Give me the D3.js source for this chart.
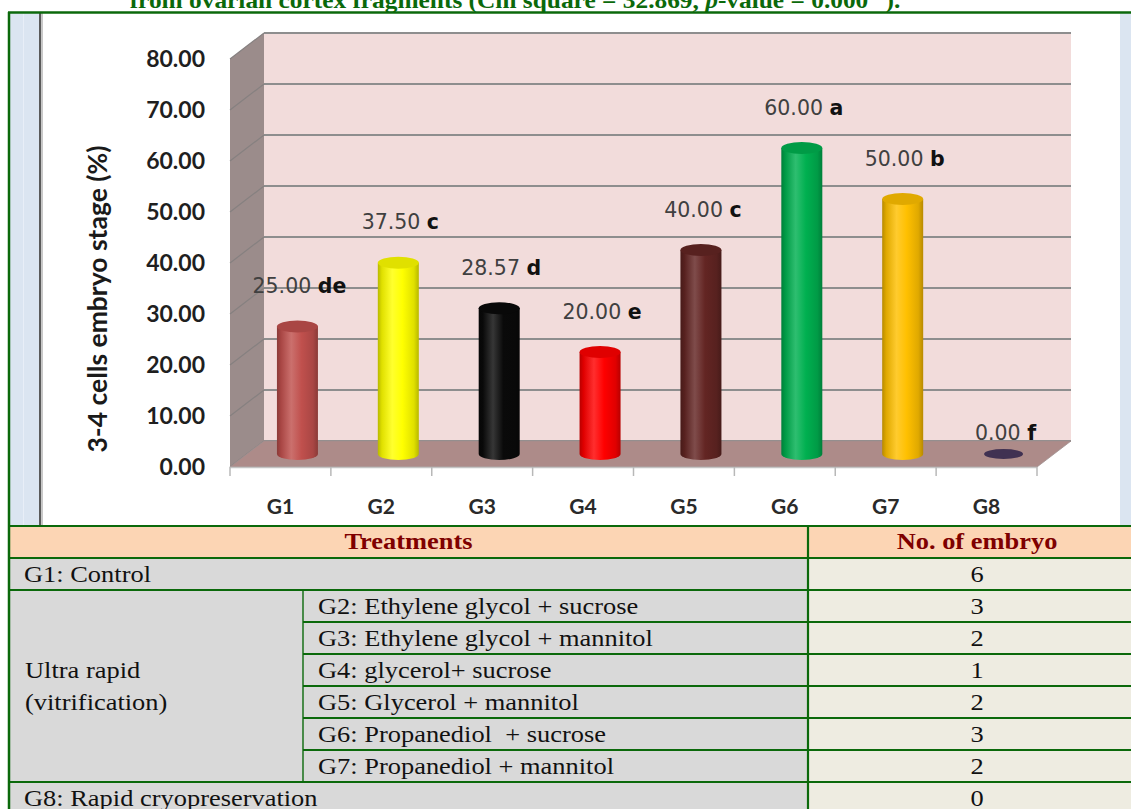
<!DOCTYPE html>
<html><head><meta charset="utf-8">
<script src="https://cdn.jsdelivr.net/npm/d3@7"></script>
<style>body{margin:0;background:#fff;overflow:hidden} svg{display:block} text{white-space:pre}</style>
</head><body><svg id="c" width="1131" height="809"></svg>
<script>
// ---------- data ----------
const categories = ["G1","G2","G3","G4","G5","G6","G7","G8"];
const values = [25.00, 37.50, 28.57, 20.00, 40.00, 60.00, 50.00, 0.00];
const letters = ["de","c","d","e","c","a","b","f"];
const barColors = ["#c0504d","#ffff00","#0a0a0a","#ff0000","#632523","#00b050","#ffc000","#403152"];
const yTicks = [0,10,20,30,40,50,60,70,80];
const yTitle = "3-4 cells embryo stage (%)";
const titleParts = ["from ovarian cortex fragments (Chi square = 32.869, ", "p", "-value = 0.000", "**", ")."];
const treatmentNames = ["G1: Control","G2: Ethylene glycol + sucrose","G3: Ethylene glycol + mannitol","G4: glycerol+ sucrose","G5: Glycerol + mannitol","G6: Propanediol  + sucrose","G7: Propanediol + mannitol","G8: Rapid cryopreservation"];
const groupLabel = ["Ultra rapid","(vitrification)"];
const embryoCounts = [6,3,2,1,2,3,2,0];
const headers = ["Treatments","No. of embryo"];

// ---------- setup ----------
const svg = d3.select("#c");
const defs = svg.append("defs");
const GREEN = "#0b690b";
const SX = 1.125; // horizontal stretch of the original scan

// title (top cut off as in the original)
const tt = svg.append("text")
  .attr("transform", `translate(515,8) scale(1.08,1)`)
  .attr("text-anchor","middle").attr("font-family","Liberation Serif")
  .attr("font-weight","bold").attr("font-size",23.5).attr("fill",GREEN);
tt.append("tspan").text(titleParts[0]);
tt.append("tspan").attr("font-style","italic").text(titleParts[1]);
tt.append("tspan").text(titleParts[2]);
tt.append("tspan").attr("dy",-9).attr("font-size",16).text(titleParts[3]);
tt.append("tspan").attr("dy",9).text(titleParts[4]);

// chart frame
svg.append("rect").attr("x",10).attr("y",13).attr("width",29).attr("height",513).attr("fill","#dbe5f1");
svg.append("line").attr("x1",23.5).attr("x2",23.5).attr("y1",13).attr("y2",526).attr("stroke","#e8eef7").attr("stroke-width",1);
svg.append("rect").attr("x",1120).attr("y",13).attr("width",11).attr("height",513).attr("fill","#dbe5f1");
svg.append("rect").attr("x",39).attr("y",13).attr("width",2).attr("height",513).attr("fill","#5a5a5a");
svg.append("rect").attr("x",41).attr("y",13).attr("width",2).attr("height",513).attr("fill","#c8c8c8");

// ---------- 3D chart ----------
const x = d3.scaleBand().domain(categories).range([230,1037]);
const y = d3.scaleLinear().domain([0,80]).range([467,59]);
const DX = 34, DY = -26;
const y0 = y(0), yTop = y(80);
const xl = x.range()[0], xr = x.range()[1];

const pts = a => a.map(p=>p.join(",")).join(" ");
// back wall
svg.append("polygon").attr("points", pts([[xl+DX,yTop+DY],[xr+DX,yTop+DY],[xr+DX,y0+DY],[xl+DX,y0+DY]])).attr("fill","#f2dcdb");
// side wall
svg.append("polygon").attr("points", pts([[xl,y0],[xl,yTop],[xl+DX,yTop+DY],[xl+DX,y0+DY]])).attr("fill","#9b8c8b");
// gridlines
yTicks.forEach(t=>{
  svg.append("line").attr("x1",xl+DX).attr("x2",xr+DX).attr("y1",y(t)+DY).attr("y2",y(t)+DY)
    .attr("stroke","#8e8e8e").attr("stroke-width",1.8);
  svg.append("line").attr("x1",xl).attr("x2",xl+DX).attr("y1",y(t)).attr("y2",y(t)+DY)
    .attr("stroke","#868080").attr("stroke-width",1.2);
});
// floor
svg.append("polygon").attr("points", pts([[xl,y0],[xl+DX,y0+DY],[xr+DX,y0+DY],[xr,y0]])).attr("fill","#ad8b89")
  .attr("stroke","#a09090").attr("stroke-width",0.8);
// front axis and ticks
svg.append("line").attr("x1",xl).attr("x2",xr).attr("y1",y0+0.5).attr("y2",y0+0.5).attr("stroke","#c4c4c4").attr("stroke-width",1.5);
categories.concat([null]).forEach((c,i)=>{
  const xx = c ? x(c) : xr;
  svg.append("line").attr("x1",xx).attr("x2",xx).attr("y1",y0).attr("y2",y0+9).attr("stroke","#b8b8b8").attr("stroke-width",1.5);
});

// y tick labels
yTicks.forEach(t=>{
  svg.append("text").attr("x",205).attr("y",y(t)+8).attr("text-anchor","end")
    .attr("font-family","Lato").attr("font-weight","bold").attr("font-size",23).attr("fill","#1f1f1f")
    .text(d3.format(".2f")(t));
});
// y title
svg.append("text").attr("transform","translate(107,299) rotate(-90)").attr("text-anchor","middle")
  .attr("font-family","Lato").attr("font-weight","bold").attr("font-size",26.5).attr("fill","#1a1a1a").text(yTitle);
// category labels
categories.forEach(c=>{
  svg.append("text").attr("x",x(c)+x.bandwidth()/2).attr("y",514).attr("text-anchor","middle")
    .attr("font-family","Lato").attr("font-weight","bold").attr("font-size",21).attr("fill","#2a2a2a").text(c);
});

// cylinders
const rx = 20.5, ry = 6;
values.forEach((v,i)=>{
  const c = categories[i];
  const cx = x(c) + x.bandwidth()/2 + DX/2;
  const yb = y(0) + DY/2, yt = y(v) + DY/2;
  const base = d3.color(barColors[i]);
  if (v > 0) {
    const g = defs.append("linearGradient").attr("id","g"+i).attr("x1",0).attr("x2",1).attr("y1",0).attr("y2",0);
    const hi = d3.interpolateRgb(base, "#ffffff")(0.18);
    const lo = d3.interpolateRgb(base, "#000000")(0.28);
    const lo2 = d3.interpolateRgb(base, "#000000")(0.12);
    [[0,lo],[0.1,lo2],[0.35,hi],[0.6,base.formatHex()],[0.88,lo2],[1,lo]].forEach(s=>
      g.append("stop").attr("offset",s[0]).attr("stop-color",s[1]));
    svg.append("path")
      .attr("d",`M${cx-rx},${yt} L${cx-rx},${yb} A${rx},${ry} 0 0 0 ${cx+rx},${yb} L${cx+rx},${yt} Z`)
      .attr("fill",`url(#g${i})`);
    svg.append("ellipse").attr("cx",cx).attr("cy",yt).attr("rx",rx).attr("ry",ry)
      .attr("fill", d3.interpolateRgb(base, "#000000")(0.12));
  } else {
    svg.append("ellipse").attr("cx",cx).attr("cy",yb).attr("rx",rx-1).attr("ry",ry-1).attr("fill",base.formatHex());
  }
  const ly = (v > 0 ? yt - 41 : yb - 22) + 7.5;
  const lt = svg.append("text").attr("x",cx+2).attr("y",ly).attr("text-anchor","middle")
    .attr("font-family","DejaVu Sans").attr("font-size",20.5);
  lt.append("tspan").attr("fill","#404040").text(d3.format(".2f")(v) + " ");
  lt.append("tspan").attr("fill","#111").attr("font-weight","bold").text(letters[i]);
});

// ---------- table ----------
const TL = 9, TR = 1146, TC = 808, TI = 303;
const rowTop = 526, rowH = 32;
const ty = r => rowTop + r*rowH; // r=0 header
// backgrounds
svg.append("rect").attr("x",TL).attr("y",ty(0)).attr("width",TR-TL).attr("height",rowH).attr("fill","#fcd5b4");
svg.append("rect").attr("x",TL).attr("y",ty(1)).attr("width",TC-TL).attr("height",809-ty(1)).attr("fill","#d9d9d9");
svg.append("rect").attr("x",TC).attr("y",ty(1)).attr("width",TR-TC).attr("height",809-ty(1)).attr("fill","#eeece1");

const cellText = (x0, yy, txt, anchor, opts={}) => {
  const t = svg.append("text").attr("transform",`translate(${x0},${yy}) scale(${SX},1)`)
    .attr("text-anchor",anchor).attr("font-family","Liberation Serif").attr("font-size",23.5)
    .attr("fill", opts.fill || "#111").text(txt);
  if (opts.bold) t.attr("font-weight","bold");
  return t;
};
// header
cellText((TL+TC)/2, ty(0)+23, headers[0], "middle", {bold:true, fill:"#7f0000"});
cellText((TC+TR)/2, ty(0)+23, headers[1], "middle", {bold:true, fill:"#7f0000"});
// rows
treatmentNames.forEach((name,i)=>{
  const r = i+1;
  const inner = i>0 && i<treatmentNames.length-1;
  cellText(inner ? TI+15 : TL+15, ty(r)+24, name, "start");
  cellText((TC+TR)/2, ty(r)+24, String(embryoCounts[i]), "middle");
});
const midGroup = (ty(2)+ty(8))/2;
cellText(TL+16, midGroup-16+8, groupLabel[0], "start");
cellText(TL+16, midGroup+16+8, groupLabel[1], "start");

// grid lines
for (let r=0; r<=9; r++){
  const yy = ty(r);
  const inner = r>=3 && r<=7;
  svg.append("line").attr("x1", inner ? TI : TL).attr("x2",TR).attr("y1",yy).attr("y2",yy)
    .attr("stroke",GREEN).attr("stroke-width",2.2);
}
svg.append("line").attr("x1",TC).attr("x2",TC).attr("y1",ty(0)).attr("y2",809).attr("stroke",GREEN).attr("stroke-width",2.2);
svg.append("line").attr("x1",TI).attr("x2",TI).attr("y1",ty(2)).attr("y2",ty(8)).attr("stroke",GREEN).attr("stroke-width",1.4);
// outer green border
svg.append("line").attr("x1",TL).attr("x2",TL).attr("y1",12).attr("y2",809).attr("stroke",GREEN).attr("stroke-width",2.5);
svg.append("line").attr("x1",TL-1).attr("x2",1131).attr("y1",12.5).attr("y2",12.5).attr("stroke",GREEN).attr("stroke-width",2.5);
</script></body></html>
